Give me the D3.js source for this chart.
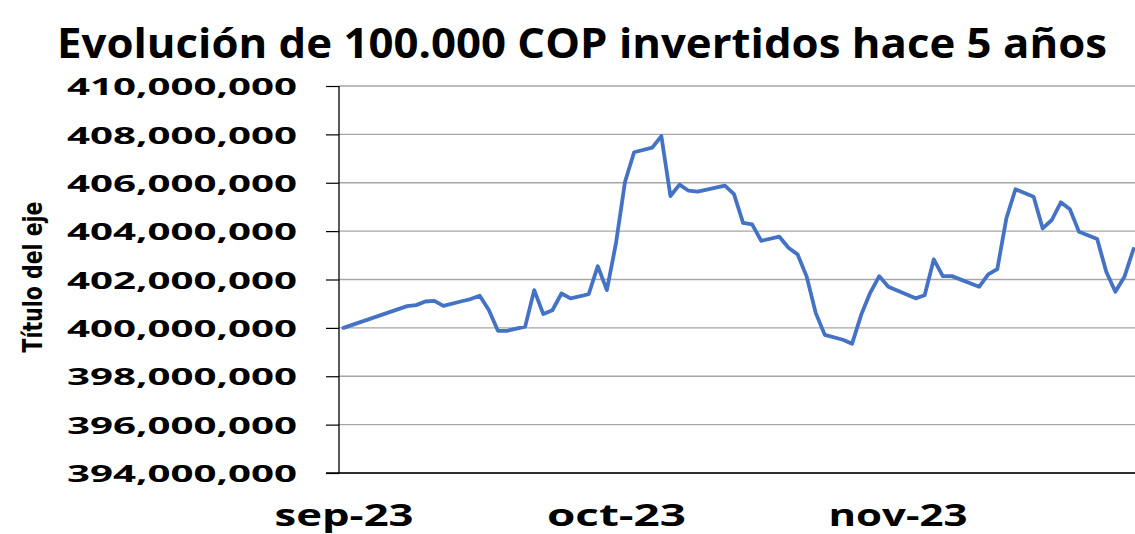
<!DOCTYPE html>
<html><head><meta charset="utf-8">
<script src="https://cdn.jsdelivr.net/npm/d3@7"></script>
<style>body{margin:0;background:#fff}svg{display:block}</style>
</head><body>
<svg id="c" width="1135" height="534"></svg>
<script>
const titleText = "Evolución de 100.000 COP invertidos hace 5 años";
const yAxisTitle = "Título del eje";
// day offsets from 2023-09-01 and values (COP)
const dayOffsets = [0,7,8,9,10,11,13,14,15,16,17,18,20,21,22,23,24,25,27,28,29,30,31,32,34,35,36,37,38,39,42,43,44,45,46,48,49,50,51,52,53,55,56,57,58,59,60,63,64,65,66,67,70,71,72,73,74,76,77,78,79,80,81,83,84,85,86,87];
const values = [400000000,400900000,400940000,401090000,401120000,400910000,401100000,401190000,401330000,400740000,399880000,399880000,400050000,401560000,400570000,400730000,401420000,401220000,401390000,402550000,401560000,403490000,406040000,407260000,407450000,407930000,405450000,405920000,405670000,405630000,405880000,405530000,404340000,404280000,403600000,403770000,403310000,403040000,402130000,400620000,399710000,399510000,399340000,400530000,401450000,402140000,401700000,401220000,401350000,402830000,402140000,402140000,401700000,402210000,402430000,404530000,405730000,405420000,404110000,404460000,405190000,404900000,403970000,403670000,402320000,401490000,402110000,403260000];
const yTicks = [394000000,396000000,398000000,400000000,402000000,404000000,406000000,408000000,410000000];
const monthTicks = ["2023-09-01","2023-10-01","2023-11-01"];
const monthLabels = ["sep-23","oct-23","nov-23"];

const day0 = Date.UTC(2023,8,1);
const DAY = 86400000;
const data = dayOffsets.map((d,i)=>({date:new Date(day0 + d*DAY + DAY/2), v:values[i]}));

const svg = d3.select("#c");
const mLeft = 339, mTop = 86, mBottom = 473;
const x = d3.scaleUtc()
  .domain([new Date(day0), new Date(Date.UTC(2023,10,30)+DAY)])
  .range([mLeft, mLeft + 91*9.08]);
const y = d3.scaleLinear().domain([394000000,410000000]).range([mBottom, mTop]);

// gridlines
svg.append("g").selectAll("line").data(yTicks).join("line")
  .attr("x1", mLeft).attr("x2", 1135)
  .attr("y1", d=>y(d)).attr("y2", d=>y(d))
  .attr("stroke", "#a6a6a6").attr("stroke-width", 1.3);

// y axis
const yAxis = svg.append("g").attr("transform",`translate(${mLeft},0)`)
  .call(d3.axisLeft(y).tickValues(yTicks).tickSize(13).tickPadding(29)
        .tickFormat(d3.format(",")));
yAxis.select(".domain").remove();
yAxis.selectAll(".tick line").attr("stroke","#000").attr("stroke-width",1.2);
yAxis.selectAll("text")
  .attr("font-family","'Open Sans', 'DejaVu Sans', sans-serif")
  .attr("font-weight","bold").attr("font-size",24).attr("fill","#000")
  .attr("dy","0.36em")
  .attr("textLength",230).attr("lengthAdjust","spacingAndGlyphs");
svg.append("line").attr("x1",mLeft).attr("x2",mLeft).attr("y1",mTop).attr("y2",mBottom)
  .attr("stroke","#000").attr("stroke-width",1.3);

// x axis
svg.append("line").attr("x1",326).attr("x2",1135).attr("y1",mBottom).attr("y2",mBottom)
  .attr("stroke","#000").attr("stroke-width",1.3);
const xAxis = svg.append("g").attr("transform",`translate(0,${mBottom})`)
  .call(d3.axisBottom(x)
    .tickValues(monthTicks.map(s=>new Date(Date.parse(s+"T12:00:00Z"))))
    .tickSize(0).tickPadding(0)
    .tickFormat((d,i)=>monthLabels[i]));
xAxis.select(".domain").remove();
xAxis.selectAll("text")
  .attr("y", 53).attr("dy", null)
  .attr("font-family","'Open Sans', 'DejaVu Sans', sans-serif")
  .attr("font-weight","bold").attr("font-size",31).attr("fill","#000")
  .attr("textLength",139).attr("lengthAdjust","spacingAndGlyphs");

// line
const line = d3.line().x(d=>x(d.date)).y(d=>y(d.v));
svg.append("path").datum(data).attr("d", line)
  .attr("fill","none").attr("stroke","#4472c4").attr("stroke-width",3.8)
  .attr("stroke-linejoin","round").attr("stroke-linecap","round");

// title
svg.append("text").attr("x",582).attr("y",58).attr("text-anchor","middle")
  .attr("font-family","'Open Sans', 'Noto Sans', sans-serif")
  .attr("font-weight","bold").attr("font-size",42).attr("fill","#000")
  .attr("textLength",1050).attr("lengthAdjust","spacingAndGlyphs")
  .text(titleText);

// y axis title
svg.append("text").attr("transform","translate(42,277) rotate(-90)")
  .attr("text-anchor","middle")
  .attr("font-family","'Liberation Sans Narrow', 'DejaVu Sans Condensed', 'Liberation Sans', sans-serif")
  .attr("font-weight","bold").attr("font-size",27).attr("fill","#000")
  .attr("textLength",151).attr("lengthAdjust","spacingAndGlyphs")
  .text(yAxisTitle);
</script>
</body></html>
